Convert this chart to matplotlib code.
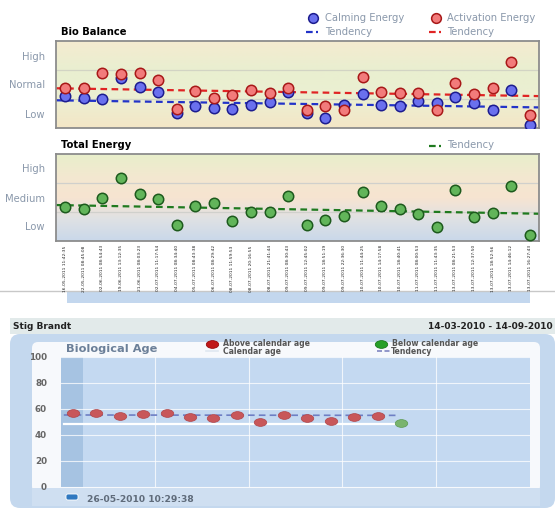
import numpy as np
import matplotlib
matplotlib.use('Agg')
import matplotlib.pyplot as plt
from matplotlib.colors import LinearSegmentedColormap
from matplotlib.patches import Rectangle, FancyBboxPatch
from matplotlib.path import Path

# ---- data ----
timestamps = [
    '16-05-2011 11:42:35', '22-05-2011 08:45:08', '02-06-2011 08:54:43',
    '19-06-2011 13:12:35', '21-06-2011 08:03:23', '02-07-2011 11:17:54',
    '04-07-2011 08:34:40', '05-07-2011 08:43:38', '06-07-2011 08:29:42',
    '08-07-2011 11:59:53', '08-07-2011 20:16:55', '08-07-2011 21:41:44',
    '09-07-2011 08:30:43', '09-07-2011 12:45:02', '09-07-2011 18:51:19',
    '09-07-2011 22:36:30', '10-07-2011 11:44:25', '10-07-2011 14:17:58',
    '10-07-2011 18:40:41', '11-07-2011 08:00:53', '11-07-2011 11:43:35',
    '13-07-2011 08:21:53', '13-07-2011 12:37:50', '13-07-2011 18:52:56',
    '13-07-2011 14:46:12', '13-07-2011 16:27:43',
]
activation = [1.37, 1.38, 1.91, 1.86, 1.91, 1.67, 0.64, 1.27, 1.05, 1.13,
              1.31, 1.21, 1.37, 0.62, 0.76, 0.62, 1.75, 1.24, 1.21, 1.20,
              0.62, 1.56, 1.16, 1.38, 2.29, 0.45]
calming = [1.11, 1.04, 1.01, 1.72, 1.42, 1.23, 0.52, 0.76, 0.70, 0.67,
           0.80, 0.90, 1.24, 0.51, 0.34, 0.80, 1.18, 0.78, 0.77, 0.92,
           0.86, 1.07, 0.86, 0.62, 1.32, 0.10]
total_energy = [1.16, 1.09, 1.49, 2.16, 1.61, 1.44, 0.55, 1.20, 1.32, 0.69,
                0.99, 0.99, 1.55, 0.54, 0.71, 0.85, 1.69, 1.20, 1.09, 0.93,
                0.47, 1.76, 0.82, 0.97, 1.89, 0.20]
# tendency lines: value at the left and right edge
act_trend = [1.37, 1.10]
calm_trend = [0.955, 0.71]
energy_trend = [1.24, 0.94]
balance_labels = ['Low', 'Normal', 'High']
energy_labels = ['Low', 'Medium', 'High']

bio_age = [57.2, 57.2, 54.4, 56.2, 56.7, 53.8, 52.8, 55.4, 50.3, 55.4,
           52.8, 50.8, 53.8, 54.8, 49.2]
above_calendar = [True] * 14 + [False]
calendar_age = 48.5
age_trend = [55.4, 55.1]
age_ticks = [0, 20, 40, 60, 80, 100]

W, H = 555, 508
fig = plt.figure(figsize=(W / 100, H / 100), dpi=100)
fig.patch.set_facecolor('white')


def px_axes(x0, y0, x1, y1, **kw):
    return fig.add_axes([x0 / W, 1 - y1 / H, (x1 - x0) / W, (y1 - y0) / H], **kw)


# background layer in pixel coordinates
bg = px_axes(0, 0, W, H, zorder=-1)
bg.set_xlim(0, W)
bg.set_ylim(H, 0)
bg.axis('off')

label_col = '#8a98ab'
blue_fc, blue_ec = '#6a70ee', '#1c1c8f'
red_fc, red_ec = '#f27b7b', '#a81818'
green_fc, green_ec = '#62b55a', '#1d5a1d'

# ---- Bio Balance ----
ax1 = px_axes(56, 41, 539, 128)
cm1 = LinearSegmentedColormap.from_list('bb', ['#f4e6c6', '#ecefd2', '#e9efd0', '#f5ebd0'])
ax1.imshow(np.linspace(0, 1, 256).reshape(-1, 1), cmap=cm1, origin='lower', aspect='auto',
           extent=[0, 1, 0, 1], transform=ax1.transAxes, zorder=0)
x = np.arange(len(timestamps))
for b in (1, 2):
    ax1.axhline(b, color='#d2d4c4', lw=0.9, zorder=1)
ax1.plot([-0.5, 25.5], calm_trend, color='#2233c8', lw=1.6, ls=(0, (3, 2)), zorder=2)
ax1.plot([-0.5, 25.5], act_trend, color='#e02424', lw=1.6, ls=(0, (3, 2)), zorder=2)
ax1.plot(x, calming, 'o', ms=7.5, mfc=blue_fc, mec=blue_ec, mew=1.1, zorder=3)
ax1.plot(x, activation, 'o', ms=7.5, mfc=red_fc, mec=red_ec, mew=1.1, zorder=4)
ax1.set_xlim(-0.5, 25.5)
ax1.set_ylim(0, 3)
ax1.set_yticks([0.5, 1.5, 2.5])
ax1.set_yticklabels(balance_labels, fontsize=7.2, color=label_col)
ax1.set_xticks([])
ax1.tick_params(length=0, pad=8)
for s in ax1.spines.values():
    s.set_color('#8c8c8c')
    s.set_linewidth(1.3)
bg.text(61, 32, 'Bio Balance', fontsize=7.2, fontweight='bold', va='center', ha='left')

# legend top
bg.plot([312.7], [18.3], 'o', ms=7, mfc=blue_fc, mec=blue_ec, mew=1.1)
bg.text(325, 18.3, 'Calming Energy', fontsize=7.2, color=label_col, va='center')
bg.plot([435.7], [18.3], 'o', ms=7, mfc=red_fc, mec=red_ec, mew=1.1)
bg.text(447, 18.3, 'Activation Energy', fontsize=7.2, color=label_col, va='center')
bg.plot([306, 318], [32.3, 32.3], color='#2233c8', lw=1.6, ls=(0, (3, 1.5)))
bg.text(325, 32.3, 'Tendency', fontsize=7.2, color=label_col, va='center')
bg.plot([429, 441], [32.3, 32.3], color='#e02424', lw=1.6, ls=(0, (3, 1.5)))
bg.text(447, 32.3, 'Tendency', fontsize=7.2, color=label_col, va='center')

# ---- Total Energy ----
ax2 = px_axes(56, 154, 539, 241)
cm2 = LinearSegmentedColormap.from_list('te', ['#c9d8ea', '#dfe1e4', '#f7e4d1', '#f3e8d0', '#e8efcb'])
ax2.imshow(np.linspace(0, 1, 256).reshape(-1, 1), cmap=cm2, origin='lower', aspect='auto',
           extent=[0, 1, 0, 1], transform=ax2.transAxes, zorder=0)
for b in (1, 2):
    ax2.axhline(b, color='#d0d0cc', lw=0.9, zorder=1)
ax2.plot([-0.5, 25.5], energy_trend, color='#1f7a1f', lw=1.6, ls=(0, (3, 2)), zorder=2)
ax2.plot(x, total_energy, 'o', ms=7.5, mfc=green_fc, mec=green_ec, mew=1.1, zorder=3)
ax2.set_xlim(-0.5, 25.5)
ax2.set_ylim(0, 3)
ax2.set_yticks([0.5, 1.5, 2.5])
ax2.set_yticklabels(energy_labels, fontsize=7.2, color=label_col)
ax2.set_xticks(x)
ax2.set_xticklabels(timestamps, rotation=90, fontsize=3.2, color='#222222')
ax2.tick_params(axis='y', length=0, pad=8)
ax2.tick_params(axis='x', length=0, pad=3)
for s in ax2.spines.values():
    s.set_color('#8c8c8c')
    s.set_linewidth(1.3)
bg.text(61, 145, 'Total Energy', fontsize=7.2, fontweight='bold', va='center', ha='left')
bg.plot([429, 441], [145.5, 145.5], color='#1f7a1f', lw=1.6, ls=(0, (3, 1.5)))
bg.text(447, 145.5, 'Tendency', fontsize=7.2, color=label_col, va='center')

# divider and blue strip
bg.plot([0, W], [291, 291], color='#c8c8c8', lw=1)
bg.add_patch(Rectangle((67, 292), 463, 11, color='#c3d7ee', lw=0))

# ---- Biological Age panel ----
bg.add_patch(Rectangle((10, 318), 545, 16, color='#e2eaea', lw=0))
bg.add_patch(FancyBboxPatch((10, 334), 545, 174, boxstyle='round,pad=0,rounding_size=10',
                            fc='#c4d8ee', ec='none'))
bg.add_patch(FancyBboxPatch((32, 342), 508, 150, boxstyle='round,pad=0,rounding_size=6',
                            fc='#f7f9fc', ec='none'))
bg.add_patch(Rectangle((32, 488), 508, 18, color='#cfdff1', lw=0))
bg.text(13, 326.5, 'Stig Brandt', fontsize=6.5, fontweight='bold', va='center', color='#222222')
bg.text(553, 326.5, '14-03-2010 - 14-09-2010', fontsize=6.5, fontweight='bold',
        va='center', ha='right', color='#222222')
bg.text(65.7, 349, 'Biological Age', fontsize=8.2, fontweight='bold', va='center', color='#6b7f98')

ax3 = px_axes(61, 357, 530, 487)
ax3.set_facecolor('#c4d9f1')
ax3.add_patch(Rectangle((0, 0), 0.95, 100, color='#a6c3e2', lw=0, zorder=0))
ax3.set_xlim(0, 20)
ax3.set_ylim(0, 100)
ax3.set_xticks([4, 8, 12, 16])
ax3.set_xticklabels([])
ax3.set_yticks(age_ticks)
ax3.set_yticklabels([str(t) for t in age_ticks], fontsize=6.3, fontweight='bold', color='#666666')
ax3.tick_params(length=0, pad=10)
ax3.grid(True, color='white', lw=0.8, alpha=0.75)
for s in ax3.spines.values():
    s.set_visible(False)
xa = np.arange(len(bio_age)) + 0.5
flags = np.array(above_calendar)
ages = np.array(bio_age)
ax3.plot([0.12, 14.5], [calendar_age, calendar_age], color='white', lw=1.6, zorder=2)
ax3.plot([0.12, 14.3], age_trend, color='#6e7fc4', lw=1.2, ls=(0, (4, 2.5)), zorder=2)
ell = Path(Path.unit_circle().vertices * np.array([1.0, 0.62]), Path.unit_circle().codes)
ax3.plot(xa[flags], ages[flags], marker=ell, ls='none', ms=9,
         mfc='#c8575a', mec='#b04448', mew=0.5, zorder=3)
ax3.plot(xa[~flags], ages[~flags], marker=ell, ls='none', ms=9,
         mfc='#7ab46e', mec='#5a9a50', mew=0.5, zorder=3)
ax3.set_axisbelow(True)

# bio age legend
lg = dict(fontsize=5.6, fontweight='bold', va='center', color='#555555')
bg.plot([212], [343.5], marker=ell, ms=9, mfc='#c01818', mec='#900000', mew=0.5)
bg.text(223, 343.5, 'Above calendar age', **lg)
bg.plot([206, 218], [351.2, 351.2], color='#e0e8f0', lw=1.2)
bg.text(223, 351.2, 'Calendar age', **lg)
bg.plot([381], [343.5], marker=ell, ms=9, mfc='#28a028', mec='#107010', mew=0.5)
bg.text(391.5, 343.5, 'Below calendar age', **lg)
bg.plot([377, 390], [351.2, 351.2], color='#7f85c0', lw=1.2, ls=(0, (3, 1.5)))
bg.text(391, 351.2, 'Tendency', **lg)

# date label with arrow icon
bg.add_patch(FancyBboxPatch((66, 494), 12, 6, boxstyle='round,pad=0,rounding_size=2',
                            fc='#2f78c0', ec='white', lw=0.6))
bg.text(87, 500, '26-05-2010 10:29:38', fontsize=6.6, fontweight='bold', va='center', color='#5f6b7a')

fig.savefig('out.png', dpi=100)
